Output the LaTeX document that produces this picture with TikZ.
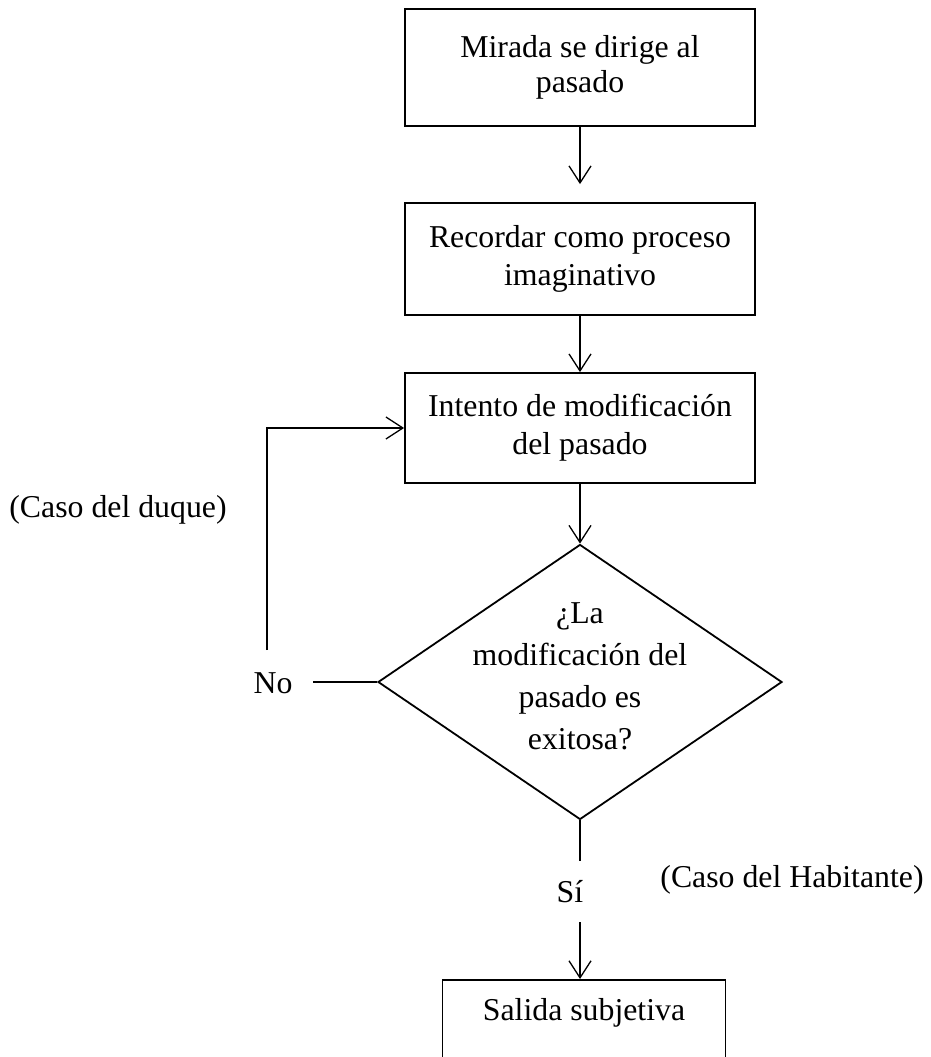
\documentclass[tikz,border=0pt]{standalone}
\usepackage{fontspec}
\setmainfont{Liberation Serif}
\usetikzlibrary{shapes.geometric,positioning,arrows.meta}

\begin{document}
\begin{tikzpicture}[x=1pt,y=-1pt,
    every node/.style={font=\fontsize{31.8}{38}\selectfont},
    caja/.style={draw, line width=1.8pt, minimum width=350pt, align=center, inner sep=0pt},
    flecha/.style={-{Straight Barb[length=17pt,width=22pt]}, line width=1.3pt},
    linea/.style={line width=1.3pt}]
    \useasboundingbox (0,0) rectangle (931,1057);
    % cajas del proceso
    \node[caja, minimum height=117pt, font=\fontsize{31.8}{35}\selectfont] (mirada) at (580,67.5) {Mirada se dirige al\\pasado};
    \node[caja, minimum height=112pt] (recordar) at (580,259) {Recordar como proceso\\imaginativo};
    \node[caja, minimum height=110pt] (intento) at (580,428) {Intento de modificaci\'on\\del pasado};
    \node[draw, diamond, line width=1.8pt, minimum width=404pt, minimum height=275pt, inner sep=0pt] (decision) at (580,682) {};
    \node[align=center, font=\fontsize{31.8}{42}\selectfont] (pregunta) at ([yshift=6pt]decision.center) {¿La\\modificaci\'on del\\pasado es\\exitosa?};
    \node[inner sep=0pt, minimum height=61pt] (si) at (570,891.5) {S\'i};
    \node[draw, line width=1.8pt, minimum width=283pt, inner ysep=0pt, text height=41pt, text depth=60pt, anchor=north] (salida) at (584,979) {Salida subjetiva};
    % etiquetas
    \node[inner xsep=20pt] (no) at (273,683) {No};
    \node (duque) at (118,510) {(Caso del duque)};
    \node (habitante) at (792,880) {(Caso del Habitante)};
    \coordinate (retorno) at (267,650);
    % conexiones
    \draw[flecha, shorten >=18pt] (mirada) -- (recordar);
    \draw[flecha] (recordar) -- (intento);
    \draw[flecha] (intento) -- (decision);
    \draw[linea] (decision.south) -- (decision.south |- si.north);
    \draw[flecha] (decision.south |- si.south) -- (decision.south |- salida.north);
    \draw[linea] (decision.west) -- (decision.west -| no.east);
    \draw[flecha] (retorno) |- (intento.west);
\end{tikzpicture}
\end{document}
